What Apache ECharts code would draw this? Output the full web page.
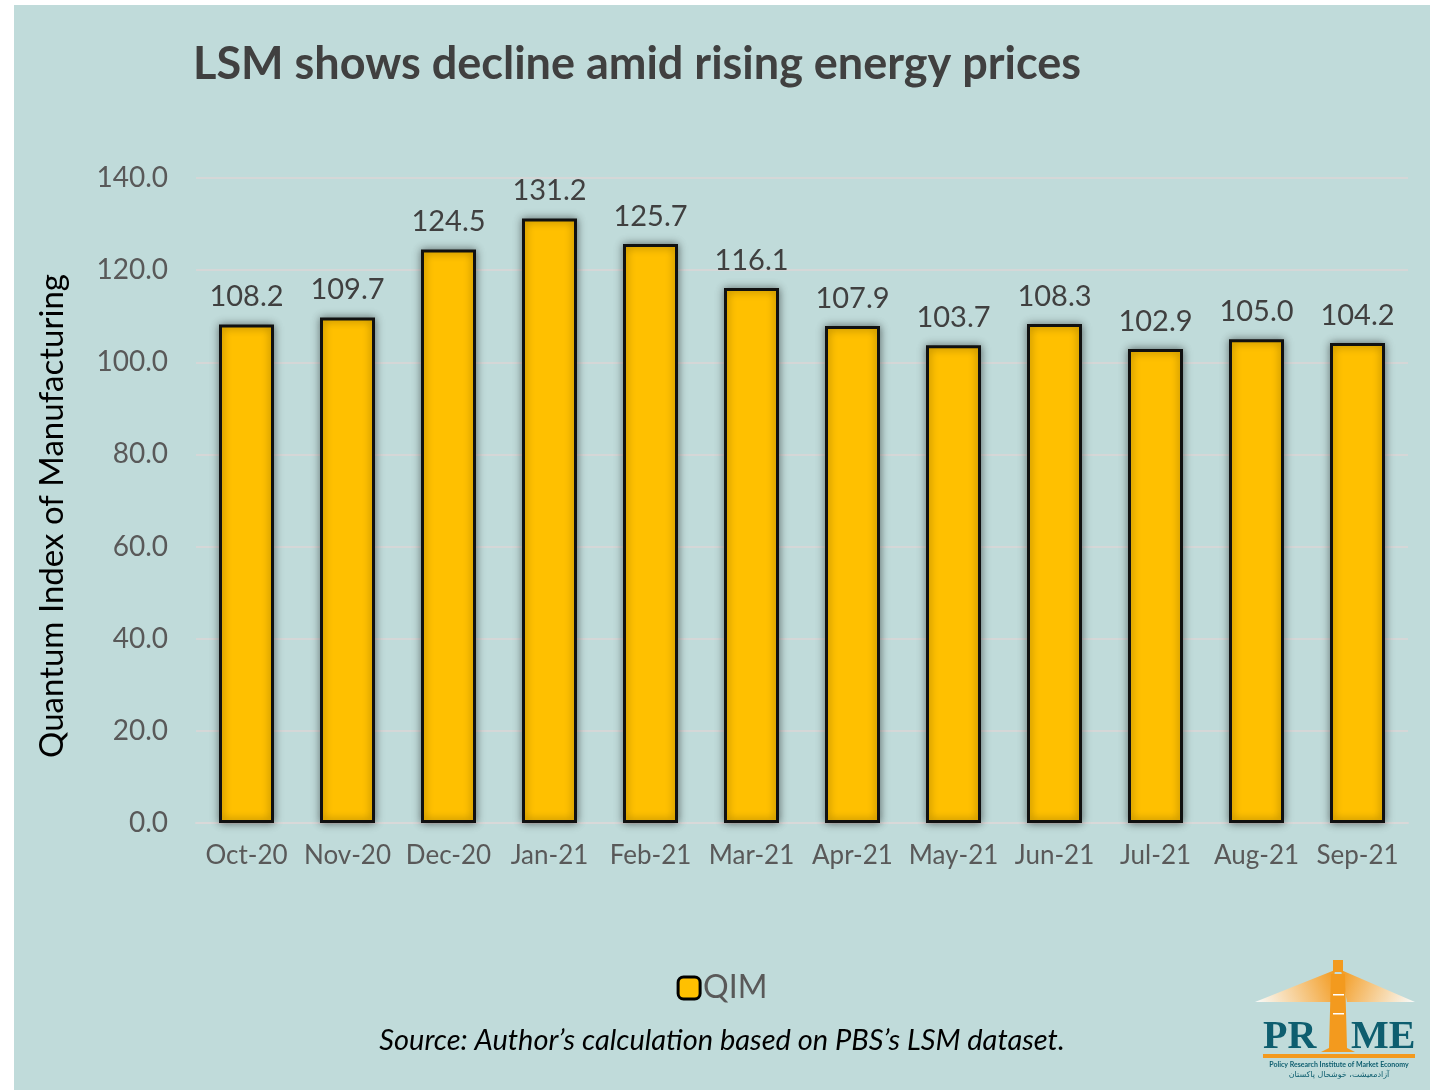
<!DOCTYPE html>
<html>
<head>
<meta charset="utf-8">
<script src="https://cdn.jsdelivr.net/npm/echarts@6/dist/echarts.min.js"></script>
<style>
  html, body { margin: 0; padding: 0; background: #fff; }
  #chart { position: absolute; left: 14px; top: 5px; width: 1416px; height: 1085px; background: #C0DBDA; }
</style>
</head>
<body>
<div id="chart"></div>
<script>
const months = ['Oct-20', 'Nov-20', 'Dec-20', 'Jan-21', 'Feb-21', 'Mar-21', 'Apr-21', 'May-21', 'Jun-21', 'Jul-21', 'Aug-21', 'Sep-21']
const qim = [108.2, 109.7, 124.5, 131.2, 125.7, 116.1, 107.9, 103.7, 108.3, 102.9, 105.0, 104.2]

const font = 'Lato, "Open Sans", sans-serif'
const chart = echarts.init(document.getElementById('chart'))

const option = {
  backgroundColor: '#C0DBDA',
  title: [
    {
      text: 'LSM shows decline amid rising energy prices',
      left: 174,
      top: 32,
      textStyle: { fontFamily: font, fontSize: 45, fontWeight: 'bold', color: '#404040' }
    },
    {
      text: 'Source: Author\u2019s calculation based on PBS\u2019s LSM dataset.',
      left: 'center',
      top: 1016,
      textStyle: { fontFamily: font, fontSize: 29, fontStyle: 'italic', fontWeight: 'normal', color: '#000' }
    }
  ],
  legend: {
    data: ['QIM'],
    left: 'center',
    top: 962,
    itemWidth: 22,
    itemHeight: 22,
    itemGap: 6,
    itemStyle: { color: '#FFC000', borderColor: '#000', borderWidth: 3 },
    textStyle: { fontFamily: font, fontSize: 32, color: '#595959', padding: [0, 0, 0, -2] }
  },
  grid: { left: 182, right: 22, top: 173, bottom: 267 },
  xAxis: {
    type: 'category',
    data: months,
    axisLine: { lineStyle: { color: '#D9D9D9', width: 2 } },
    axisTick: { show: false },
    axisLabel: { fontFamily: font, fontSize: 26, color: '#595959', margin: 20, interval: 0 }
  },
  yAxis: {
    type: 'value',
    min: 0,
    max: 140,
    interval: 20,
    axisLine: { show: false },
    axisTick: { show: false },
    splitLine: { lineStyle: { color: '#DCD6D6', width: 1.5 } },
    axisLabel: {
      fontFamily: font, fontSize: 28, color: '#595959', margin: 28,
      formatter: v => v.toFixed(1)
    }
  },
  series: [
    {
      name: 'QIM',
      type: 'bar',
      data: qim,
      barWidth: 55,
      itemStyle: {
        color: '#FFC000',
        borderColor: '#111',
        borderWidth: 3,
        shadowColor: 'rgba(0,0,0,0.45)',
        shadowBlur: 8
      },
      label: {
        show: true,
        position: 'top',
        distance: 13,
        fontFamily: font,
        fontSize: 29,
        color: '#404040',
        formatter: p => p.value.toFixed(1)
      }
    }
  ],
  graphic: [
    {
      // y-axis title, centred a little below the plot middle as in the original
      type: 'text',
      x: 38,
      y: 511,
      rotation: Math.PI / 2,
      style: {
        text: 'Quantum Index of Manufacturing',
        align: 'center',
        verticalAlign: 'middle',
        fontFamily: font,
        fontSize: 33,
        fill: '#000'
      }
    },
    {
      type: 'group',
      left: 1241,
      top: 955,
      children: [
        {
          type: 'polygon',
          shape: { points: [[80, 12], [0, 44], [76, 44]] },
          style: {
            fill: new echarts.graphic.LinearGradient(1, 0, 0, 1, [
              { offset: 0, color: '#F39A1E' }, { offset: 1, color: 'rgba(255,255,255,0.9)' }
            ])
          }
        },
        {
          type: 'polygon',
          shape: { points: [[86, 12], [160, 44], [92, 44]] },
          style: {
            fill: new echarts.graphic.LinearGradient(0, 0, 1, 1, [
              { offset: 0, color: '#F39A1E' }, { offset: 1, color: 'rgba(255,255,255,0.9)' }
            ])
          }
        },
        {
          type: 'polygon',
          shape: { points: [[76, 16], [90, 16], [92, 90], [100, 94], [66, 94], [74, 90]] },
          style: { fill: '#F39A1E' }
        },
        { type: 'rect', shape: { x: 78, y: 2, width: 10, height: 12 }, style: { fill: '#F39A1E' } },
        { type: 'rect', shape: { x: 78, y: 36, width: 11, height: 1.5 }, style: { fill: '#fff' } },
        { type: 'rect', shape: { x: 78, y: 55, width: 11, height: 1.5 }, style: { fill: '#fff' } },
        {
          type: 'text',
          x: 8, y: 60,
          style: { text: 'PR', fontFamily: '"Liberation Serif", serif', fontWeight: 'bold', fontSize: 40, fill: '#0E5E6F' }
        },
        {
          type: 'text',
          x: 96, y: 60,
          style: { text: 'ME', fontFamily: '"Liberation Serif", serif', fontWeight: 'bold', fontSize: 40, fill: '#0E5E6F' }
        },
        { type: 'rect', shape: { x: 8, y: 96, width: 152, height: 4 }, style: { fill: '#F39A1E' } },
        {
          type: 'text',
          x: 84, y: 103,
          style: { text: 'Policy Research Institute of Market Economy', align: 'center', fontFamily: font, fontWeight: 'bold', fontSize: 7, fill: '#0E5E6F' }
        },
        {
          type: 'text',
          x: 84, y: 113,
          style: { text: 'آزادمعیشت، خوشحال پاکستان', align: 'center', fontFamily: '"DejaVu Sans", sans-serif', fontSize: 8, fill: '#0E5E6F' }
        }
      ]
    }
  ]
}

chart.setOption(option)
</script>
</body>
</html>
